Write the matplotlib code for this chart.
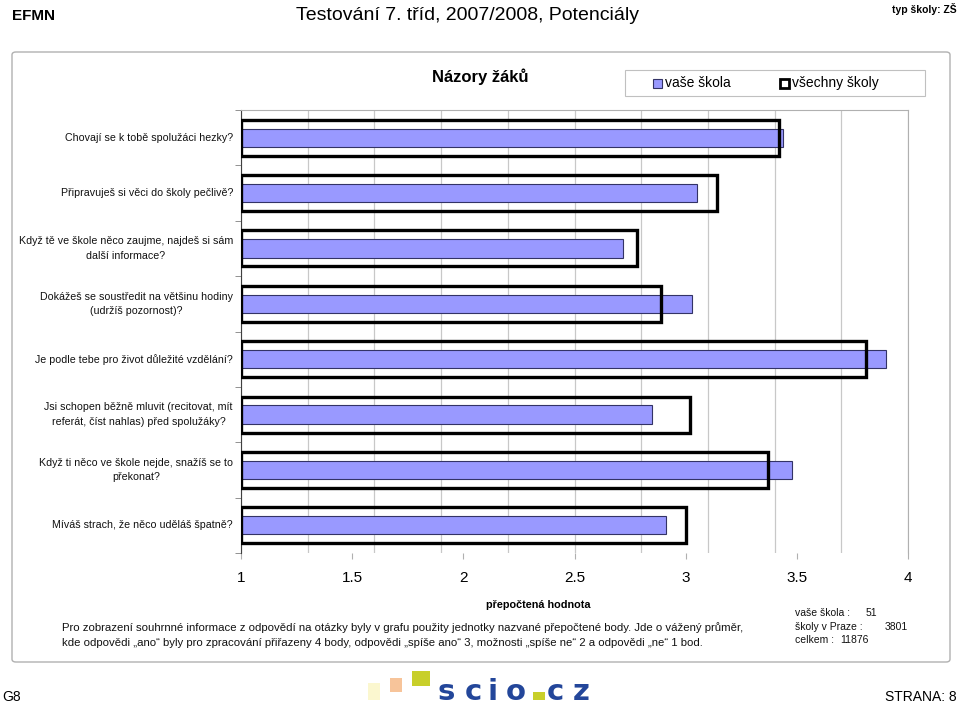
import numpy as np
import matplotlib
matplotlib.use("Agg")
import matplotlib.pyplot as plt
from matplotlib.patches import Rectangle, FancyBboxPatch

plt.rcParams["font.family"] = ["Liberation Sans", "DejaVu Sans"]

# ── data ────────────────────────────────────────────────────────────────
questions = [
    "Chovají se k tobě spolužáci hezky?",
    "Připravuješ si věci do školy pečlivě?",
    "Když tě ve škole něco zaujme, najdeš si sám\ndalší informace?",
    "Dokážeš se soustředit na většinu hodiny\n(udržíš pozornost)?",
    "Je podle tebe pro život důležité vzdělání?",
    "Jsi schopen běžně mluvit (recitovat, mít\nreferát, číst nahlas) před spolužáky?",
    "Když ti něco ve škole nejde, snažíš se to\npřekonat?",
    "Míváš strach, že něco uděláš špatně?",
]
vase_skola    = [3.44, 3.05, 2.72, 3.03, 3.90, 2.85, 3.48, 2.91]
vsechny_skoly = [3.42, 3.14, 2.78, 2.89, 3.81, 3.02, 3.37, 3.00]
x_ticks = [1, 1.5, 2, 2.5, 3, 3.5, 4]
x_min, x_max = 1, 4

counts_lbl = ["vaše škola :", "školy v Praze :", "celkem :"]
counts_val = ["51", "3801", "11876"]

# ── figure ──────────────────────────────────────────────────────────────
fig = plt.figure(figsize=(9.59, 7.06), dpi=100)

def fx(px): return px / 959
def fy(py): return 1 - py / 706

# outer rounded frame
fig.patches.append(FancyBboxPatch((fx(12), fy(662)), fx(938), fy(52) - fy(662),
                                  boxstyle="round,pad=0,rounding_size=0.004",
                                  transform=fig.transFigure, fill=False,
                                  edgecolor="#b0b0b0", linewidth=1.0))

ax = fig.add_axes([fx(241), fy(553), fx(908) - fx(241), fy(110) - fy(553)])
y = np.arange(len(questions))
ax.barh(y, np.array(vase_skola) - x_min, left=x_min, height=0.33,
        color="#9999ff", edgecolor="#333366", linewidth=0.8, zorder=2)
ax.barh(y, np.array(vsechny_skoly) - x_min, left=x_min, height=0.65,
        fill=False, edgecolor="black", linewidth=2.4, zorder=3)

ax.set_xlim(x_min, x_max)
ax.set_ylim(len(questions) - 0.5, -0.5)
for g in np.linspace(x_min, x_max, 11):
    ax.axvline(g, color="#c8c8c8", linewidth=0.9, zorder=1)

ax.set_xticks(x_ticks)
ax.set_xticklabels([f"{t:g}" for t in x_ticks], fontsize=11)
ax.tick_params(axis="x", length=4, color="#b0b0b0", pad=9)
ax.set_yticks(np.arange(-0.5, len(questions), 1), minor=True)
ax.set_yticks([])
ax.tick_params(axis="y", which="minor", length=4, color="#808080")
for i, q in enumerate(questions):
    ax.text(-0.012, i, q, transform=ax.get_yaxis_transform(), ha="right",
            va="center", multialignment="center", fontsize=7.7,
            linespacing=1.55, color="#111111")
ax.spines["bottom"].set_visible(False)
ax.spines["top"].set_color("#b0b0b0")
ax.spines["right"].set_color("#b0b0b0")
ax.spines["left"].set_color("#404040")

# ── titles / legend ─────────────────────────────────────────────────────
fig.text(fx(12), fy(16), "EFMN", fontsize=11, fontweight="bold", va="center")
fig.text(fx(468), fy(15), "Testování 7. tříd, 2007/2008, Potenciály",
         fontsize=14, ha="center", va="center")
fig.text(fx(957), fy(9), "typ školy: ZŠ", fontsize=7.5, fontweight="bold",
         ha="right", va="center")
fig.text(fx(480), fy(77), "Názory žáků", fontsize=12, fontweight="bold",
         ha="center", va="center")

fig.patches.append(Rectangle((fx(625), fy(96)), fx(300), fy(70) - fy(96),
                             transform=fig.transFigure, fill=False,
                             edgecolor="#c0c0c0", linewidth=0.8))
fig.patches.append(Rectangle((fx(653), fy(88)), fx(9), fy(79) - fy(88),
                             transform=fig.transFigure, facecolor="#9999ff",
                             edgecolor="#333366", linewidth=0.8))
fig.text(fx(665), fy(83), "vaše škola", fontsize=10, va="center")
fig.patches.append(Rectangle((fx(780), fy(88)), fx(9), fy(79) - fy(88),
                             transform=fig.transFigure, facecolor="white",
                             edgecolor="black", linewidth=2))
fig.text(fx(792), fy(83), "všechny školy", fontsize=10, va="center")

# ── bottom texts ────────────────────────────────────────────────────────
fig.text(fx(538), fy(605), "přepočtená hodnota", fontsize=7.8,
         fontweight="bold", ha="center", va="center")
fig.text(fx(62), fy(628),
         "Pro zobrazení souhrnné informace z odpovědí na otázky byly v grafu použity "
         "jednotky nazvané přepočtené body. Jde o vážený průměr,",
         fontsize=8.2, va="center", color="#111111")
fig.text(fx(62), fy(643),
         "kde odpovědi „ano“ byly pro zpracování přiřazeny 4 body, odpovědi „spíše ano“ 3, "
         "možnosti „spíše ne“ 2 a odpovědi „ne“ 1 bod.",
         fontsize=8.2, va="center", color="#111111")
val_x = [866, 885, 840]
for i, (lbl, val) in enumerate(zip(counts_lbl, counts_val)):
    yy = fy(613 + 13.5 * i)
    fig.text(fx(795), yy, lbl, fontsize=7.5, va="center", color="#111111")
    fig.text(fx(val_x[i]), yy, val, fontsize=7.5, va="center", color="#111111")

# ── footer ──────────────────────────────────────────────────────────────
fig.text(fx(2), fy(697), "G8", fontsize=10, va="center")
fig.text(fx(957), fy(697), "STRANA: 8", fontsize=10, ha="right", va="center")
for (x0, y0, w, h, c) in [(368, 683, 12, 17, "#fbf7cf"), (390, 678, 12, 14, "#f7c49a"),
                          (412, 671, 18, 15, "#c8cf2a"), (533, 692, 12, 8, "#c8cf2a")]:
    fig.patches.append(Rectangle((fx(x0), fy(y0 + h)), fx(w), fy(y0) - fy(y0 + h),
                                 transform=fig.transFigure, facecolor=c,
                                 edgecolor="none"))
for ch, cx in zip("scioсz".replace("с", "c"), [446, 473, 493, 516, 555, 581]):
    fig.text(fx(cx), fy(700), ch, fontsize=21, fontweight="bold", color="#23469a",
             ha="center", va="baseline", family=["DejaVu Sans"])

fig.savefig("out.png", dpi=100)
